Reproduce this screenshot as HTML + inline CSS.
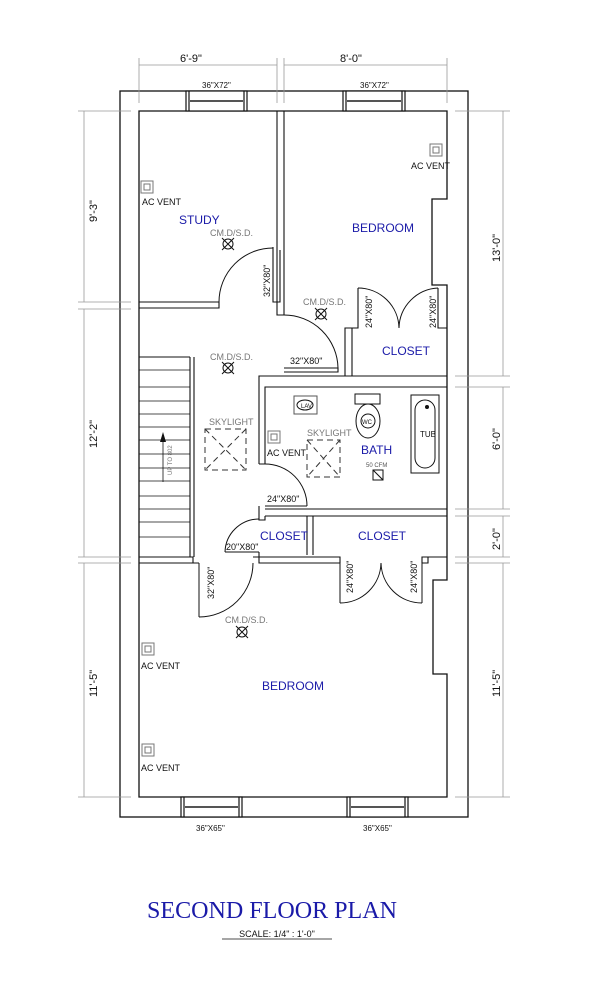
<!DOCTYPE html>
<html><head><meta charset="utf-8"><style>
html,body{margin:0;padding:0;background:#fff;}
svg{display:block;}
text{font-family:"Liberation Sans",sans-serif;}
.k{font-size:9px;fill:#111;}
.g{font-size:9px;fill:#777;}
.b{font-size:12px;fill:#1a1aa8;}
.d{font-size:11px;fill:#111;}
</style></head><body>
<svg width="612" height="1008" viewBox="0 0 612 1008" xmlns="http://www.w3.org/2000/svg">
<g fill="none" stroke="#111" stroke-width="1.3">
<rect x="120" y="91" width="348" height="726"/>
<path d="M139 111 H447 V199 H432 V285 H447 V580 H433 V674 H447 V797 H139 Z"/>
</g>
<g stroke="#111" stroke-width="1.2" fill="#fff">
<rect x="186" y="91" width="61" height="20"/><rect x="343" y="91" width="62" height="20"/>
<rect x="181" y="797" width="61" height="20"/><rect x="347" y="797" width="61" height="20"/>
</g>
<g stroke="#555" stroke-width="2">
<line x1="190" y1="101" x2="243" y2="101"/><line x1="347" y1="101" x2="401" y2="101"/>
<line x1="185" y1="807" x2="238" y2="807"/><line x1="351" y1="807" x2="404" y2="807"/>
</g>
<g stroke="#111" stroke-width="1.2">
<line x1="189" y1="91" x2="189" y2="111"/><line x1="244" y1="91" x2="244" y2="111"/>
<line x1="346" y1="91" x2="346" y2="111"/><line x1="402" y1="91" x2="402" y2="111"/>
<line x1="184" y1="797" x2="184" y2="817"/><line x1="239" y1="797" x2="239" y2="817"/>
<line x1="350" y1="797" x2="350" y2="817"/><line x1="405" y1="797" x2="405" y2="817"/>
</g>
<g fill="none" stroke="#111" stroke-width="1.1">
<path d="M277 111 V315 H284 V111"/>
<path d="M139 302 H219 V308 H139"/>
<path d="M273 247 V302 H280 V250"/>
<path d="M284 368 H338 V372 H284"/>
<path d="M259 464 V376 H447 M265 464 V387 H447"/>
<path d="M345 376 V328 H352 V376"/><path d="M352 328 H358 V288 M438 288 V328 H447"/>
<path d="M265 509 H447 M265 516 H447"/>
<path d="M259 464 H265 M259 506 V520 H265 V516"/>
<path d="M307 516 V555 M313 516 V555"/>
<path d="M139 557 H193 V563 H199 M139 563 H193"/>
<path d="M259 552 V563 H340 M253 557 H259 M259 557 H340 V563 M422 563 V557 H447 M422 563 H428 V557"/>
<path d="M190 357 V557 M194 357 V557 M139 357 H190"/>
</g>
<g stroke="#111" stroke-width="0.8">
<line x1="139" y1="387" x2="190" y2="387"/><line x1="139" y1="401" x2="190" y2="401"/><line x1="139" y1="414" x2="190" y2="414"/><line x1="139" y1="427" x2="190" y2="427"/><line x1="139" y1="440" x2="190" y2="440"/><line x1="139" y1="454" x2="190" y2="454"/><line x1="139" y1="468" x2="190" y2="468"/><line x1="139" y1="481" x2="190" y2="481"/><line x1="139" y1="496" x2="190" y2="496"/><line x1="139" y1="509" x2="190" y2="509"/><line x1="139" y1="522" x2="190" y2="522"/><line x1="139" y1="537" x2="190" y2="537"/><line x1="139" y1="370" x2="190" y2="370"/>
<line x1="163" y1="482" x2="163" y2="438"/>
</g>
<path d="M163 432 L160 442 H166 Z" fill="#111"/>
<text transform="translate(172,475) rotate(-90)" style="font-size:6px;fill:#777">UP TO 802</text>
<g fill="none" stroke="#111" stroke-width="1">
<path d="M219 302 A54 54 0 0 1 273 248"/>
<path d="M284 315 A54 54 0 0 1 338 368"/>
<path d="M358 288 A41 41 0 0 1 399 328 A41 41 0 0 1 438 288"/>
<path d="M265 464 A42 42 0 0 1 307 506"/><line x1="265" y1="506" x2="307" y2="506"/>
<path d="M259 519 A34 34 0 0 0 225 552"/><line x1="225" y1="552" x2="259" y2="552"/>
<path d="M199 617 A54 54 0 0 0 253 563"/><line x1="199" y1="563" x2="199" y2="617"/>
<path d="M340 603 A41 41 0 0 0 381 563 A41 41 0 0 0 422 603"/>
<line x1="340" y1="563" x2="340" y2="603"/><line x1="422" y1="563" x2="422" y2="603"/>
</g>
<g fill="none" stroke="#555" stroke-width="1">
<rect x="294" y="396" width="23" height="18"/><ellipse cx="305" cy="405" rx="8" ry="5" stroke="#111"/>
<rect x="355" y="394" width="25" height="10" stroke="#111"/><ellipse cx="368" cy="421" rx="12" ry="17" stroke="#111"/><circle cx="368" cy="421" r="7" stroke="#111"/>
<rect x="411" y="395" width="28" height="78" stroke="#111"/><rect x="415" y="400" width="20" height="68" rx="10" stroke="#111"/>
<rect x="373" y="470" width="10" height="10" stroke="#111"/><line x1="373" y1="470" x2="383" y2="480" stroke="#111"/>
</g>
<circle cx="427" cy="407" r="2" fill="#111"/>
<text x="301" y="408" style="font-size:6px;fill:#111">LAV</text>
<text x="362" y="424" style="font-size:6px;fill:#111">WC</text>
<text x="420" y="437" style="font-size:8px;fill:#111">TUB</text>
<text x="366" y="467" style="font-size:6px;fill:#555">50 CFM</text>
<g fill="none" stroke="#333" stroke-width="1" stroke-dasharray="6,4">
<rect x="205" y="429" width="41" height="41"/><path d="M205 429 L246 470 M246 429 L205 470"/>
<rect x="307" y="440" width="33" height="37"/><path d="M307 440 L340 477 M340 440 L307 477"/>
</g>
<text x="209" y="425" class="g">SKYLIGHT</text>
<text x="307" y="436" class="g">SKYLIGHT</text>
<g fill="none" stroke="#777">
<rect x="141" y="181" width="12" height="12"/><rect x="144" y="184" width="6" height="6"/>
<rect x="430" y="144" width="12" height="12"/><rect x="433" y="147" width="6" height="6"/>
<rect x="268" y="431" width="12" height="12"/><rect x="271" y="434" width="6" height="6"/>
<rect x="142" y="643" width="12" height="12"/><rect x="145" y="646" width="6" height="6"/>
<rect x="142" y="744" width="12" height="12"/><rect x="145" y="747" width="6" height="6"/>
</g>
<text x="142" y="205" class="k">AC VENT</text>
<text x="411" y="169" class="k">AC VENT</text>
<text x="267" y="456" class="k">AC VENT</text>
<text x="141" y="669" class="k">AC VENT</text>
<text x="141" y="771" class="k">AC VENT</text>
<g fill="none" stroke="#111" stroke-width="1">
<circle cx="228" cy="244" r="5"/><path d="M222 238 L234 250 M234 238 L222 250"/>
<circle cx="321" cy="314" r="5"/><path d="M315 308 L327 320 M327 308 L315 320"/>
<circle cx="228" cy="368" r="5"/><path d="M222 362 L234 374 M234 362 L222 374"/>
<circle cx="242" cy="632" r="5"/><path d="M236 626 L248 638 M248 626 L236 638"/>
</g>
<text x="210" y="236" class="g">CM.D/S.D.</text>
<text x="303" y="305" class="g">CM.D/S.D.</text>
<text x="210" y="360" class="g">CM.D/S.D.</text>
<text x="225" y="623" class="g">CM.D/S.D.</text>
<text x="179" y="224" class="b">STUDY</text>
<text x="352" y="232" class="b">BEDROOM</text>
<text x="382" y="355" class="b">CLOSET</text>
<text x="361" y="454" class="b">BATH</text>
<text x="260" y="540" class="b">CLOSET</text>
<text x="358" y="540" class="b">CLOSET</text>
<text x="262" y="690" class="b">BEDROOM</text>
<g class="k">
<text transform="translate(270,297) rotate(-90)">32"X80"</text>
<text x="290" y="364">32"X80"</text>
<text transform="translate(372,328) rotate(-90)">24"X80"</text>
<text transform="translate(436,328) rotate(-90)">24"X80"</text>
<text x="267" y="502">24"X80"</text>
<text x="226" y="550">20"X80"</text>
<text transform="translate(214,599) rotate(-90)">32"X80"</text>
<text transform="translate(353,593) rotate(-90)">24"X80"</text>
<text transform="translate(417,593) rotate(-90)">24"X80"</text>
</g>
<g style="font-size:8px;fill:#111">
<text x="202" y="88">36"X72"</text><text x="360" y="88">36"X72"</text>
<text x="196" y="831">36"X65"</text><text x="363" y="831">36"X65"</text>
</g>
<g stroke="#999" stroke-width="0.8" fill="none">
<line x1="139" y1="65" x2="277" y2="65"/><line x1="284" y1="65" x2="447" y2="65"/>
<line x1="139" y1="58" x2="139" y2="103"/><line x1="277" y1="58" x2="277" y2="103"/><line x1="284" y1="58" x2="284" y2="103"/><line x1="447" y1="58" x2="447" y2="103"/>
<line x1="84" y1="111" x2="84" y2="302"/><line x1="84" y1="309" x2="84" y2="557"/><line x1="84" y1="563" x2="84" y2="797"/>
<line x1="78" y1="111" x2="131" y2="111"/><line x1="78" y1="302" x2="131" y2="302"/><line x1="78" y1="309" x2="131" y2="309"/><line x1="78" y1="557" x2="131" y2="557"/><line x1="78" y1="563" x2="131" y2="563"/><line x1="78" y1="797" x2="131" y2="797"/>
<line x1="503" y1="111" x2="503" y2="376"/><line x1="503" y1="387" x2="503" y2="509"/><line x1="503" y1="516" x2="503" y2="557"/><line x1="503" y1="563" x2="503" y2="797"/>
<line x1="455" y1="111" x2="510" y2="111"/><line x1="455" y1="376" x2="510" y2="376"/><line x1="455" y1="387" x2="510" y2="387"/><line x1="455" y1="509" x2="510" y2="509"/><line x1="455" y1="516" x2="510" y2="516"/><line x1="455" y1="557" x2="510" y2="557"/><line x1="455" y1="563" x2="510" y2="563"/><line x1="455" y1="797" x2="510" y2="797"/>
</g>
<text x="180" y="62" class="d">6'-9"</text>
<text x="340" y="62" class="d">8'-0"</text>
<text transform="translate(97,222) rotate(-90)" class="d">9'-3"</text>
<text transform="translate(97,448) rotate(-90)" class="d">12'-2"</text>
<text transform="translate(97,697) rotate(-90)" class="d">11'-5"</text>
<text transform="translate(500,262) rotate(-90)" class="d">13'-0"</text>
<text transform="translate(500,450) rotate(-90)" class="d">6'-0"</text>
<text transform="translate(500,550) rotate(-90)" class="d">2'-0"</text>
<text transform="translate(500,697) rotate(-90)" class="d">11'-5"</text>
<text x="147" y="918" textLength="250" lengthAdjust="spacingAndGlyphs" style="font-family:'Liberation Serif',serif;font-size:24px;fill:#1a1aa8">SECOND FLOOR PLAN</text>
<text x="277" y="937" text-anchor="middle" style="font-size:9px;fill:#111">SCALE: 1/4" : 1'-0"</text>
<line x1="222" y1="939" x2="332" y2="939" stroke="#111" stroke-width="0.7"/>
</svg>
</body></html>
